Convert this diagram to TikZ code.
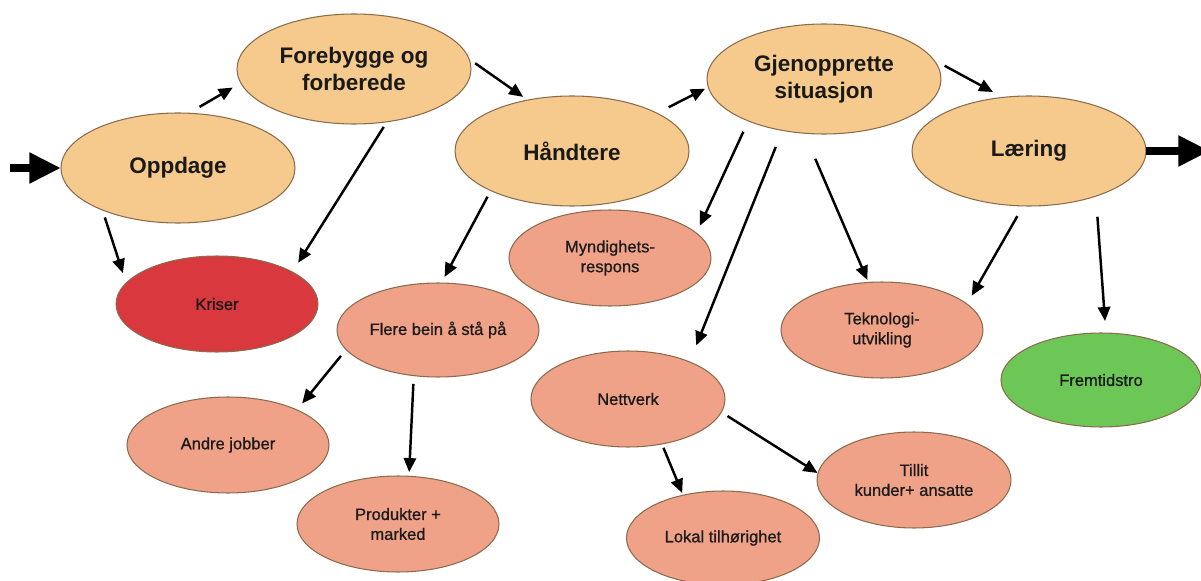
\documentclass[tikz,border=0pt]{standalone}
\usepackage{fontspec}
\setmainfont{Liberation Sans}
\newfontfamily\medsans[FakeBold=0.8]{Liberation Sans}
\usetikzlibrary{shapes.geometric,arrows.meta}
\definecolor{mainfill}{HTML}{F5CA8C}
\definecolor{subfill}{HTML}{EFA288}
\definecolor{krisefill}{HTML}{D9383F}
\definecolor{framfill}{HTML}{6CC757}
\definecolor{edge}{HTML}{8A6B4E}
\definecolor{txt}{HTML}{1A1A1A}
\begin{document}
\begin{tikzpicture}[x=0.02cm,y=-0.02cm,
  ell/.style={ellipse,draw=edge,line width=0.6pt,inner sep=0pt,outer sep=0pt,align=center,text=txt},
  mainn/.style={ell,fill=mainfill,minimum width=4.68cm,minimum height=2.2cm,font=\bfseries\fontsize{12.8}{15.3}\selectfont},
  subn/.style={ell,fill=subfill,minimum width=4.04cm,minimum height=1.92cm,font=\medsans\fontsize{9.4}{11.3}\selectfont},
  arr/.style={line width=1.4pt,-{Triangle[length=8pt,width=7pt]}},
  gap/.style 2 args={shorten <={#1*0.567pt},shorten >={#2*0.567pt}},
  big/.style={line width=4.8pt,-{Triangle[length=18pt,width=16.5pt]}}]
\useasboundingbox (0,0) rectangle (1201,581);

% main stages
\node[mainn] (O) at (178,168) {Oppdage};
\node[mainn] (F) at (354,69) {Forebygge og\\forberede};
\node[mainn] (H) at (572,151) {Håndtere};
\node[mainn] (G) at (824,79) {Gjenopprette\\situasjon};
\node[mainn] (L) at (1029,151) {Læring};

% sub nodes
\node[subn,fill=krisefill] (K) at (217,304) {Kriser};
\node[subn,minimum height=1.88cm] (FB) at (438,330) {Flere bein å stå på};
\node[subn] (A) at (228,445) {Andre jobber};
\node[subn] (P) at (398,524) {Produkter +\\marked};
\node[subn] (M) at (610,258) {Myndighets-\\respons};
\node[subn,minimum width=3.88cm] (N) at (628,399) {Nettverk};
\node[subn,minimum width=3.88cm] (T) at (914,480) {Tillit\\kunder+ ansatte};
\node[subn,minimum width=3.86cm,minimum height=1.88cm] (Lo) at (723,538) {Lokal tilhørighet};
\node[subn] (Tek) at (882,330) {Teknologi-\\utvikling};
\node[subn,fill=framfill,minimum width=4cm,minimum height=1.88cm] (Fr) at (1101,380) {Fremtidstro};

% big in/out arrows
\coordinate (src) at (10,168);
\coordinate (snk) at (1210,151);
\draw[big] (src) -- (O.west);
\draw[big] (L.east) -- (snk);

% connectors
\draw[arr,gap={12.7}{9.3}] (O.79.8) -- (F.187.3);
\draw[arr,gap={7.5}{5.6}] (F.5.2) -- (H.131.8);
\draw[arr,gap={13.2}{3.7}] (H.24.4) -- (G.184.2);
\draw[arr,gap={12.7}{11.2}] (G.10.5) -- (L.116.0);
\draw[arr,gap={7.9}{10.5}] (O.209.8) -- (K.167.1);
\draw[arr,gap={6.1}{11.0}] (F.-58.6) -- (K.23.2);
\draw[arr,gap={7.0}{6.9}] (H.206.3) -- (FB.86.7);
\draw[arr,gap={8.3}{8.4}] (FB.192.9) -- (A.27.2);
\draw[arr,gap={8.3}{4.2}] (FB.242.8) -- (P.77.3);
\draw[arr,gap={11.9}{8.3}] (G.209.5) -- (M.16.7);
\draw[arr,gap={17.9}{17.8}] (G.231.3) -- (N.31.9);
\draw[arr,gap={27.9}{2.7}] (G.250.9) -- (Tek.106.4);
\draw[arr,gap={11.8}{9.7}] (L.264.8) -- (Tek.17.6);
\draw[arr,gap={20.8}{12.1}] (L.-34.3) -- (Fr.84.0);
\draw[arr,gap={4.2}{2.4}] (N.-53.6) -- (Lo.133.1);
\draw[arr,gap={7.4}{0.5}] (N.-8.6) -- (T.176.4);
\end{tikzpicture}
\end{document}
